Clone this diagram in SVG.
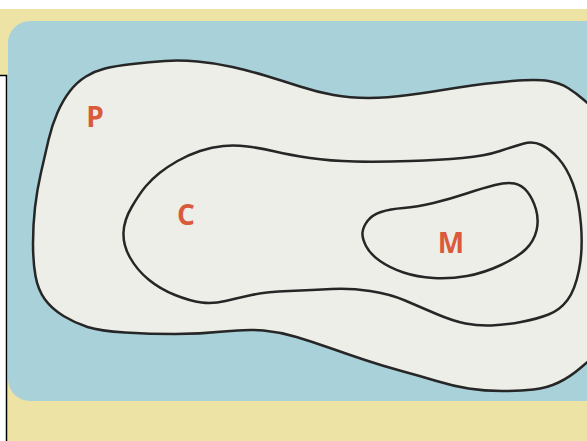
<svg xmlns="http://www.w3.org/2000/svg" width="587" height="441" viewBox="0 0 587 441">
<style>
.contour{fill:none;stroke:#262626;stroke-width:2.5;stroke-linejoin:round;stroke-linecap:round}
.lbl{font-family:"Open Sans","Liberation Sans",sans-serif;font-weight:bold;font-size:28px;fill:#DA5A3C;text-anchor:middle}
</style>
<rect x="0" y="0" width="587" height="441" fill="#EDE3A5"/>
<rect x="0" y="0" width="587" height="9" fill="#ffffff"/>
<rect x="8" y="21" width="610" height="380" rx="22" fill="#A9D1DA"/>
<g id="outer">
<path fill="#EEEEE8" d="M592,107 L584,100 Q576,93 568,88 Q560,83 548.5,81 Q537,79 512,81 Q487,83 458.5,87.5 Q430,92 408.5,95 Q387,98 368.5,98 Q350,98 333.5,95 Q317,92 300,86.5 Q283,81 266.5,76 Q250,71 232.5,67 Q215,63 197.5,61.5 Q180,60 165,61 Q150,62 132.5,64 Q115,66 105,68.5 Q95,71 86,76.5 Q77,82 70,91 Q63,100 57.5,112.5 Q52,125 48.5,140 Q45,155 41,172.5 Q37,190 35,207.5 Q33,225 33,243.5 Q33,262 35.5,276 Q38,290 45,299.5 Q52,309 63.5,316 Q75,323 87.5,327 Q100,331 125,332.5 Q150,334 175,334 Q200,334 223.5,331.5 Q247,329 263.5,330.5 Q280,332 296.5,337 Q313,342 330,348 Q347,354 365,360 Q383,366 401.5,371 Q420,376 436.5,381 Q453,386 468.5,388.5 Q484,391 502,391 Q520,391 533.5,389.5 Q547,388 558.5,382.5 Q570,377 581,367.5 L592,358 L600,358 L600,107 Z"/>
<path class="contour" d="M592,107 L584,100 Q576,93 568,88 Q560,83 548.5,81 Q537,79 512,81 Q487,83 458.5,87.5 Q430,92 408.5,95 Q387,98 368.5,98 Q350,98 333.5,95 Q317,92 300,86.5 Q283,81 266.5,76 Q250,71 232.5,67 Q215,63 197.5,61.5 Q180,60 165,61 Q150,62 132.5,64 Q115,66 105,68.5 Q95,71 86,76.5 Q77,82 70,91 Q63,100 57.5,112.5 Q52,125 48.5,140 Q45,155 41,172.5 Q37,190 35,207.5 Q33,225 33,243.5 Q33,262 35.5,276 Q38,290 45,299.5 Q52,309 63.5,316 Q75,323 87.5,327 Q100,331 125,332.5 Q150,334 175,334 Q200,334 223.5,331.5 Q247,329 263.5,330.5 Q280,332 296.5,337 Q313,342 330,348 Q347,354 365,360 Q383,366 401.5,371 Q420,376 436.5,381 Q453,386 468.5,388.5 Q484,391 502,391 Q520,391 533.5,389.5 Q547,388 558.5,382.5 Q570,377 581,367.5 L592,358"/>
<text class="lbl" x="95" y="127">P</text>
</g>
<g id="middle">
<path class="contour" d="M132,206.5 Q140,193 146,186 Q152,179 159.5,173 Q167,167 177.5,161 Q188,155 200,151 Q212,147 223.5,146 Q235,145 247.5,146.5 Q260,148 275,151.5 Q290,155 310,158 Q330,161 355,161.5 Q380,162 410,161 Q440,160 462.5,158 Q485,156 500,151 Q515,146 524,143.5 Q533,141 541.5,145 Q550,149 558.5,158.5 Q567,168 573,184 Q579,200 581,225 Q583,250 579,270 Q575,290 567.5,300 Q560,310 548.5,314.5 Q537,319 521,322 Q505,325 491.5,325.5 Q478,326 465.5,323.5 Q453,321 436.5,314 Q420,307 405,300.5 Q390,294 370,291 Q350,288 331.5,289 Q313,290 289,291 Q265,292 251.5,295 Q238,298 225.5,301 Q213,304 201.5,302.5 Q190,301 175,295 Q160,289 148.5,279.5 Q137,270 130,257.5 Q123,245 123.5,232.5 Q124,220 132,206.5 Z"/>
<text class="lbl" x="186" y="225">C</text>
</g>
<g id="inner">
<path class="contour" d="M362.5,232.5 Q363,227 367.5,221 Q372,215 381,212 Q390,209 403.5,208 Q417,207 433.5,203 Q450,199 466.5,193.5 Q483,188 495,185 Q507,182 514.5,183.5 Q522,185 527.5,192 Q533,199 536,209.5 Q539,220 536.5,230.5 Q534,241 526,249 Q518,257 501,265 Q484,273 467,276 Q450,279 433.5,278 Q417,277 403.5,272.5 Q390,268 380,261 Q370,254 366,246 Q362,238 362.5,232.5 Z"/>
<text class="lbl" x="451" y="253">M</text>
</g>
<rect x="0" y="75" width="6.5" height="366" fill="#ffffff"/>
<path d="M0,75.5 H6.5 V441" fill="none" stroke="#000000" stroke-width="1.5"/>
</svg>
